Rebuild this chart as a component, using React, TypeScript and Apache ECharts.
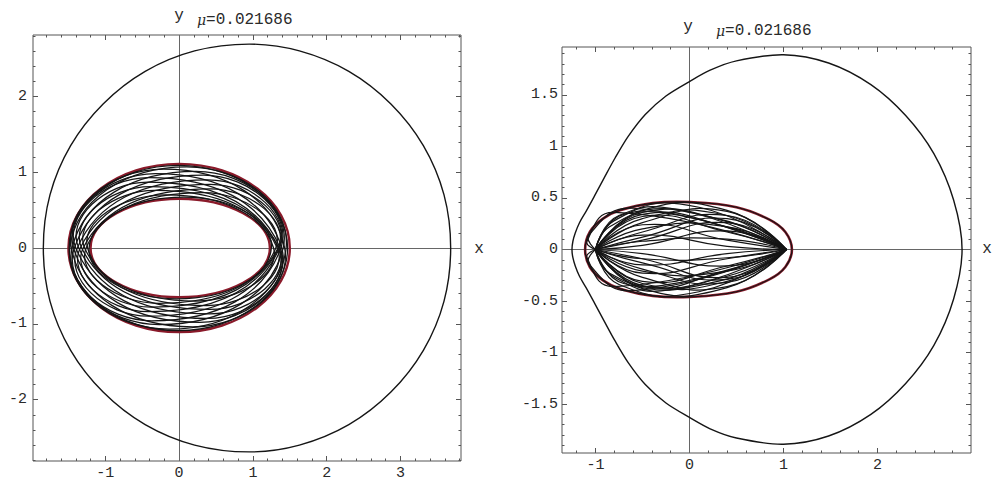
import React, { useEffect, useRef } from "react";
import * as echarts from "echarts";

// ---------- texts ----------
const muValueText = "=0.021686";
const xAxisName = "x";
const yAxisName = "y";

// ---------- tick labels ----------
const leftXTicks = [-1, 0, 1, 2, 3];
const leftYTicks = [-2, -1, 0, 1, 2];
const rightXTicks = [-1, 0, 1, 2];
const rightYTicks = [-1.5, -1, -0.5, 0, 0.5, 1, 1.5];

// ---------- left panel data ----------
// zero-velocity curve (closed), [x, y]
const leftOuterCurve: number[][] = [
  [3.68, 0], [3.59, 0.7], [3.31, 1.35], [2.87, 1.9], [2.3, 2.33], [1.63, 2.6], [0.95, 2.69],
  [0.21, 2.6], [-0.46, 2.33], [-1.03, 1.9], [-1.47, 1.35], [-1.75, 0.7], [-1.84, 0],
  [-1.75, -0.7], [-1.47, -1.35], [-1.03, -1.9], [-0.46, -2.33], [0.21, -2.6], [0.95, -2.69],
  [1.63, -2.6], [2.3, -2.33], [2.87, -1.9], [3.31, -1.35], [3.59, -0.7],
];
// red envelope of the orbit: outer and inner boundary (right, top, left, bottom)
const leftOrbitOuterEnvelope: number[][] = [[1.5, 0], [0, 1.11], [-1.5, 0], [0, -1.11]];
const leftOrbitInnerEnvelope: number[][] = [[1.23, 0], [0, 0.65], [-1.2, 0], [0, -0.65]];
// orbit loops: right point, top point, left point, bottom point
const leftOrbitLoops: number[][] = [
  [1.25, 0, 0.065, 0.67, -1.22, 0, -0.035, -0.67],
  [1.28, 0, -0.18, 0.7, -1.24, 0, 0.22, -0.7],
  [1.31, 0, 0.325, 0.73, -1.26, 0, -0.275, -0.73],
  [1.33, 0, -0.325, 0.76, -1.28, 0, 0.375, -0.76],
  [1.34, 0, 0.42, 0.78, -1.3, 0, -0.38, -0.78],
  [1.35, 0, -0.385, 0.81, -1.32, 0, 0.415, -0.81],
  [1.35, 0, 0.425, 0.84, -1.34, 0, -0.415, -0.84],
  [1.35, 0, -0.425, 0.87, -1.36, 0, 0.415, -0.87],
  [1.36, 0, 0.39, 0.9, -1.38, 0, -0.41, -0.9],
  [1.37, 0, -0.415, 0.93, -1.4, 0, 0.385, -0.93],
  [1.38, 0, 0.33, 0.96, -1.42, 0, -0.37, -0.96],
  [1.39, 0, -0.32, 0.98, -1.43, 0, 0.28, -0.98],
  [1.41, 0, 0.23, 1.01, -1.45, 0, -0.27, -1.01],
  [1.43, 0, -0.215, 1.04, -1.46, 0, 0.185, -1.04],
  [1.45, 0, 0.105, 1.07, -1.48, 0, -0.135, -1.07],
  [1.47, 0, -0.01, 1.09, -1.49, 0, -0.01, -1.09],
];

// ---------- right panel data ----------
const rightOuterCurve: number[][] = [
  [2.9, 0], [2.81, 0.48], [2.6, 0.93], [2.3, 1.3], [1.93, 1.6], [1.48, 1.81], [1.0, 1.89],
  [0.5, 1.83], [0.22, 1.74], [0.0, 1.63], [-0.25, 1.49], [-0.47, 1.31], [-0.65, 1.1],
  [-0.79, 0.89], [-0.91, 0.69], [-1.01, 0.52], [-1.1, 0.37], [-1.17, 0.26], [-1.215, 0.16],
  [-1.24, 0.08], [-1.25, 0], [-1.24, -0.08], [-1.215, -0.16], [-1.17, -0.26], [-1.1, -0.37],
  [-1.01, -0.52], [-0.91, -0.69], [-0.79, -0.89], [-0.65, -1.1], [-0.47, -1.31],
  [-0.25, -1.49], [0.0, -1.63], [0.22, -1.74], [0.5, -1.83], [1.0, -1.89], [1.48, -1.81],
  [1.93, -1.6], [2.3, -1.3], [2.6, -0.93], [2.81, -0.48],
];
const rightOrbitEnvelope: number[][] = [
  [1.09, 0], [1.02, 0.17], [0.85, 0.29], [0.5, 0.41], [0.0, 0.46], [-0.39, 0.45],
  [-0.74, 0.38], [-0.92, 0.3], [-1.06, 0.17], [-1.11, 0], [-1.06, -0.17], [-0.92, -0.3],
  [-0.74, -0.38], [-0.39, -0.45], [0.0, -0.46], [0.5, -0.41], [0.85, -0.29], [1.02, -0.17],
];
// orbit arcs: start node, two inner points, end node
const rightOrbitArcs: number[][] = [
  [-1.0, 0, -0.5, 0.38, 0.4, 0.38, 1.03, 0],
  [-1.0, 0, -0.5, 0.36, 0.4, 0.27, 1.03, 0],
  [-1.0, 0, -0.5, 0.26, 0.4, 0.37, 1.03, 0],
  [-1.0, 0, -0.5, 0.32, 0.4, 0.17, 1.03, 0],
  [-1.0, 0, -0.5, 0.17, 0.4, 0.33, 1.03, 0],
  [-1.0, 0, -0.5, 0.24, 0.4, 0.09, 1.03, 0],
  [-1.0, 0, -0.5, 0.09, 0.4, 0.26, 1.03, 0],
  [-1.0, 0, -0.5, 0.14, 0.4, 0.03, 1.03, 0],
  [-1.0, 0, -0.5, 0.04, 0.4, 0.18, 1.03, 0],
  [-1.0, 0, -0.5, 0.3, 0.4, 0.33, 1.03, 0],
  [-1.0, 0, -0.5, 0.2, 0.4, 0.22, 1.03, 0],
  [-1.0, 0, -0.5, 0.08, 0.4, 0.1, 1.03, 0],
  [-1.0, 0, -0.5, 0.34, 0.4, 0.22, 1.03, 0],
  [-1.0, 0, -0.5, 0.12, 0.4, 0.3, 1.03, 0],
  [-1.0, 0, -0.75, 0.33, 0.1, 0.41, 1.03, 0],
  [-1.0, 0, -0.8, 0.28, -0.2, 0.4, 1.03, 0],
  [-1.0, 0, -0.7, 0.34, 0.3, 0.3, 1.03, 0],
  [-1.0, 0, -0.85, 0.22, -0.3, 0.36, 1.03, 0],
  [-1.0, 0, -1.07, 0.14, -0.6, 0.4, 1.03, 0],
  [-1.0, 0, -1.09, 0.08, -0.8, 0.36, 1.03, 0],
  [-1.0, 0, -0.5, -0.38, 0.4, -0.37, 1.03, 0],
  [-1.0, 0, -0.5, -0.27, 0.4, -0.36, 1.03, 0],
  [-1.0, 0, -0.5, -0.35, 0.4, -0.26, 1.03, 0],
  [-1.0, 0, -0.5, -0.19, 0.4, -0.32, 1.03, 0],
  [-1.0, 0, -0.5, -0.31, 0.4, -0.16, 1.03, 0],
  [-1.0, 0, -0.5, -0.09, 0.4, -0.27, 1.03, 0],
  [-1.0, 0, -0.5, -0.23, 0.4, -0.09, 1.03, 0],
  [-1.0, 0, -0.5, -0.04, 0.4, -0.16, 1.03, 0],
  [-1.0, 0, -0.5, -0.15, 0.4, -0.04, 1.03, 0],
  [-1.0, 0, -0.5, -0.33, 0.4, -0.31, 1.03, 0],
  [-1.0, 0, -0.5, -0.21, 0.4, -0.21, 1.03, 0],
  [-1.0, 0, -0.5, -0.09, 0.4, -0.08, 1.03, 0],
  [-1.0, 0, -0.5, -0.36, 0.4, -0.2, 1.03, 0],
  [-1.0, 0, -0.5, -0.13, 0.4, -0.29, 1.03, 0],
  [-1.0, 0, -0.75, -0.34, 0.1, -0.41, 1.03, 0],
  [-1.0, 0, -0.8, -0.27, -0.2, -0.39, 1.03, 0],
  [-1.0, 0, -0.7, -0.33, 0.3, -0.31, 1.03, 0],
  [-1.0, 0, -0.85, -0.23, -0.3, -0.35, 1.03, 0],
  [-1.0, 0, -1.07, -0.14, -0.6, -0.4, 1.03, 0],
  [-1.0, 0, -1.09, -0.08, -0.8, -0.36, 1.03, 0],
];

// ---------- styling ----------
const MONO = '"Liberation Mono", "DejaVu Sans Mono", monospace';
const FRAME = "#555";
const TEXT = "#2a2a2a";
const INK = "#151515";
const RED = "#8a1a2a";

function minorTicks(a: number, b: number, step: number, majors: number[]) {
  const out: number[] = [];
  for (let v = a; v <= b + 1e-9; v += step) {
    const r = Math.round(v * 100) / 100;
    if (!majors.some((m) => Math.abs(m - r) < 1e-6)) out.push(r);
  }
  return out;
}

function axesFor(
  dim: "x" | "y",
  gridIndex: number,
  min: number,
  max: number,
  majors: number[],
  minors: number[],
  fontSize: number,
  margin: number
) {
  const labelPos = dim === "x" ? "bottom" : "left";
  const otherPos = dim === "x" ? "top" : "right";
  const base = {
    type: "value",
    gridIndex,
    min,
    max,
    splitLine: { show: false },
    axisLine: { show: false, onZero: false },
  };
  const tick = (vals: number[], len: number) => ({
    show: true,
    inside: true,
    length: len,
    customValues: vals,
    lineStyle: { color: FRAME, width: 1 },
  });
  return [
    {
      ...base,
      position: labelPos,
      axisTick: tick(majors, 5),
      axisLabel: {
        show: true,
        customValues: majors,
        margin,
        fontFamily: MONO,
        fontSize,
        color: TEXT,
      },
    },
    { ...base, position: labelPos, axisTick: tick(minors, 2.5), axisLabel: { show: false } },
    { ...base, position: otherPos, axisTick: tick(majors, 5), axisLabel: { show: false } },
    { ...base, position: otherPos, axisTick: tick(minors, 2.5), axisLabel: { show: false } },
  ];
}

function shapeSeries(
  rows: number[][],
  gi: number,
  closed: boolean,
  smooth: number,
  color: string,
  width: number,
  z: number
) {
  return {
    type: "custom",
    coordinateSystem: "cartesian2d",
    xAxisIndex: gi * 4,
    yAxisIndex: gi * 4,
    z,
    silent: true,
    data: rows,
    renderItem: (params: any, api: any) => {
      const n = rows[params.dataIndex].length / 2;
      const pts: number[][] = [];
      for (let k = 0; k < n; k++) pts.push(api.coord([api.value(2 * k), api.value(2 * k + 1)]));
      return {
        type: closed ? "polygon" : "polyline",
        shape: { points: pts, smooth },
        style: { fill: "none", stroke: color, lineWidth: width },
        silent: true,
      };
    },
  };
}

function zeroLines(gi: number) {
  return {
    type: "line",
    xAxisIndex: gi * 4,
    yAxisIndex: gi * 4,
    data: [],
    silent: true,
    markLine: {
      silent: true,
      symbol: ["none", "none"],
      label: { show: false },
      lineStyle: { color: "#666", width: 1, type: "solid" },
      data: [{ xAxis: 0 }, { yAxis: 0 }],
      z: 1,
      animation: false,
    },
  };
}

function muLabel(x: number, y: number) {
  return {
    type: "text",
    x,
    y,
    style: {
      text: "{m|μ}{n|" + muValueText + "}",
      align: "left",
      verticalAlign: "middle",
      rich: {
        m: { fontFamily: '"DejaVu Serif", serif', fontStyle: "italic", fontSize: 14, fill: TEXT },
        n: { fontFamily: MONO, fontSize: 16, fill: TEXT },
      },
    },
  };
}

function plainLabel(text: string, x: number, y: number) {
  return {
    type: "text",
    x,
    y,
    style: { text, fontFamily: MONO, fontSize: 16, fill: TEXT, align: "center", verticalAlign: "middle" },
  };
}

export default function App() {
  const ref = useRef<HTMLDivElement>(null);
  useEffect(() => {
    document.body.style.margin = "0";
    const chart = echarts.init(ref.current as HTMLDivElement, undefined, { renderer: "svg" });

    const L = { x: [-1.98, 3.82], y: [-2.81, 2.81] };
    const R = { x: [-1.356, 2.995], y: [-1.975, 1.965] };

    const xAxes = [
      ...axesFor("x", 0, L.x[0], L.x[1], leftXTicks, minorTicks(-1.8, 3.8, 0.2, leftXTicks), 15, 5),
      ...axesFor("x", 1, R.x[0], R.x[1], rightXTicks, minorTicks(-1.2, 2.8, 0.2, rightXTicks), 15, 5),
    ];
    const yAxes = [
      ...axesFor("y", 0, L.y[0], L.y[1], leftYTicks, minorTicks(-2.8, 2.8, 0.2, leftYTicks), 15, 6),
      ...axesFor("y", 1, R.y[0], R.y[1], rightYTicks, minorTicks(-1.9, 1.9, 0.1, rightYTicks), 15, 4),
    ];

    chart.setOption({
      animation: false,
      backgroundColor: "#ffffff",
      grid: [
        { left: 33, top: 35, width: 428, height: 426, show: true, borderColor: FRAME, borderWidth: 1, backgroundColor: "transparent" },
        { left: 562, top: 47, width: 409, height: 406, show: true, borderColor: FRAME, borderWidth: 1, backgroundColor: "transparent" },
      ],
      xAxis: xAxes,
      yAxis: yAxes,
      graphic: [
        plainLabel(yAxisName, 179, 16),
        muLabel(197, 20),
        plainLabel(xAxisName, 479, 249),
        plainLabel(yAxisName, 688, 27),
        muLabel(716, 31),
        plainLabel(xAxisName, 987, 249),
      ],
      series: [
        zeroLines(0),
        zeroLines(1),
        shapeSeries([leftOuterCurve.flat()], 0, true, 0.33, INK, 1.4, 3),
        shapeSeries([leftOrbitOuterEnvelope.flat(), leftOrbitInnerEnvelope.flat()], 0, true, 0.55, RED, 2.4, 4),
        shapeSeries(leftOrbitLoops, 0, true, 0.55, INK, 1.25, 5),
        shapeSeries([rightOuterCurve.flat()], 1, true, 0.3, INK, 1.4, 3),
        shapeSeries([rightOrbitEnvelope.flat()], 1, true, 0.4, RED, 2.6, 4),
        shapeSeries([rightOrbitEnvelope.flat()], 1, true, 0.4, INK, 1.1, 5),
        shapeSeries(rightOrbitArcs, 1, false, 0.5, INK, 1.2, 5),
      ],
    });
    return () => chart.dispose();
  }, []);
  return <div ref={ref} style={{ position: "absolute", left: 0, top: 0, width: 994, height: 487 }} />;
}
